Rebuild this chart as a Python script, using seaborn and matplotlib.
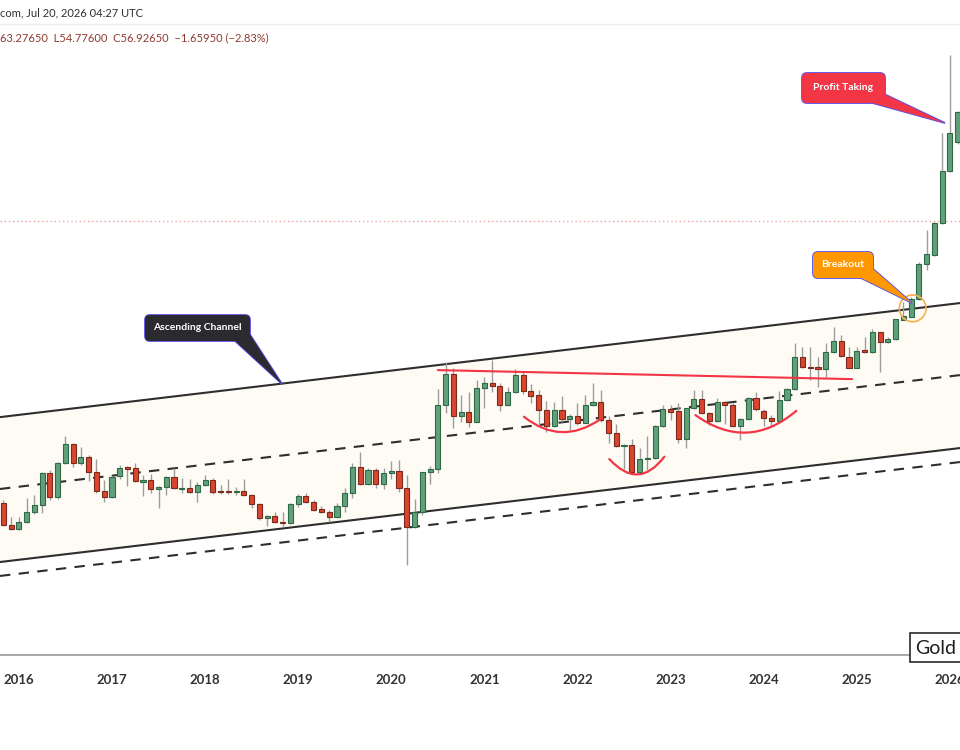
import numpy as np
import pandas as pd
import matplotlib
matplotlib.use("Agg")
import matplotlib.pyplot as plt
import seaborn as sns
from matplotlib.patches import FancyBboxPatch, Polygon, Rectangle
from matplotlib.lines import Line2D
from matplotlib.transforms import Affine2D

# monthly silver candles, Nov 2015 .. Feb 2026 (log price scale)
months = pd.date_range("2015-11-01", "2026-02-01", freq="MS")

open_ = [15.52, 14.02, 13.74, 14.22, 14.88, 15.38, 17.85, 15.96, 18.69, 20.42, 18.69, 19.22,
         17.93, 16.42, 15.96, 17.60, 18.35, 18.27, 17.12, 17.28, 16.57, 16.72, 17.52, 16.57,
         16.65, 16.34, 16.88, 17.28, 16.42, 16.42, 16.34, 16.42, 16.11, 15.45, 14.48, 14.61,
         14.22, 14.15, 15.45, 16.03, 15.60, 15.10, 14.88, 14.55, 15.31, 16.27, 18.35, 16.96,
         18.10, 16.96, 17.85, 18.02, 16.65, 13.88, 14.88, 17.93, 18.18, 24.47, 28.26, 23.25,
         23.69, 22.60, 26.49, 27.10, 26.75, 24.47, 25.99, 28.13, 26.12, 25.64, 23.91, 22.20,
         23.91, 22.93, 23.25, 22.50, 24.47, 24.81, 22.82, 21.49, 20.23, 20.32, 17.93, 19.04,
         19.13, 22.20, 24.03, 23.80, 20.90, 24.14, 25.17, 23.58, 22.71, 24.81, 24.47, 22.20,
         22.93, 25.29, 23.80, 23.03, 22.71, 25.05, 26.37, 30.59, 29.19, 29.19, 28.92, 31.30,
         32.95, 30.59, 29.06, 31.59, 31.30, 34.40, 32.80, 33.26, 36.33, 36.84, 40.06, 47.13,
         49.14, 57.00, 72.61, 83.10]
high = [15.74, 14.55, 14.55, 15.88, 16.11, 17.93, 18.10, 18.75, 21.19, 20.50, 20.13, 19.40,
        19.04, 17.28, 17.60, 18.52, 18.40, 18.69, 17.68, 17.76, 16.80, 17.60, 18.27, 17.44,
        17.36, 17.12, 17.68, 17.44, 16.88, 17.36, 16.72, 17.36, 16.19, 15.52, 14.68, 14.88,
        14.88, 15.52, 16.19, 16.27, 15.74, 15.31, 15.02, 15.52, 16.65, 18.69, 19.68, 18.27,
        18.27, 18.27, 18.85, 18.94, 17.68, 15.81, 17.93, 18.44, 26.37, 29.90, 29.06, 25.64,
        25.99, 27.50, 27.87, 30.16, 27.10, 26.62, 28.92, 28.52, 26.99, 26.24, 24.92, 24.81,
        25.52, 23.47, 24.70, 25.64, 27.10, 26.24, 23.25, 22.40, 20.40, 20.90, 20.03, 21.19,
        22.30, 24.47, 24.47, 24.70, 24.14, 26.24, 26.24, 23.69, 25.29, 24.92, 24.70, 23.03,
        25.41, 25.99, 24.03, 23.36, 26.12, 26.49, 32.64, 32.04, 32.04, 30.59, 32.64, 35.16,
        33.88, 32.04, 32.04, 33.56, 34.90, 34.40, 33.56, 36.50, 39.50, 40.43, 47.60, 55.20,
        57.30, 86.60, 124.50, 96.00]
low = [13.95, 13.68, 13.70, 14.15, 14.75, 14.82, 15.74, 15.80, 18.60, 18.35, 18.52, 17.20,
       16.27, 15.60, 15.90, 17.35, 16.80, 17.12, 16.03, 16.27, 15.17, 16.11, 16.57, 16.27,
       16.30, 15.60, 16.80, 16.20, 16.19, 16.19, 16.11, 16.03, 15.17, 14.34, 13.95, 14.15,
       13.88, 14.08, 15.24, 15.52, 14.95, 14.81, 14.22, 14.50, 14.88, 15.88, 16.90, 16.88,
       16.65, 16.57, 17.36, 16.34, 11.64, 13.82, 14.68, 16.96, 17.85, 23.59, 21.96, 22.60,
       22.10, 22.60, 24.14, 25.99, 23.80, 24.36, 25.87, 25.76, 24.70, 22.30, 21.60, 22.10,
       22.60, 21.76, 22.30, 22.50, 24.36, 22.60, 20.51, 20.13, 18.18, 17.85, 17.85, 18.10,
       19.04, 22.10, 22.82, 20.50, 20.03, 24.03, 23.47, 22.30, 22.60, 22.40, 22.10, 20.80,
       22.82, 23.80, 22.20, 22.20, 22.60, 24.92, 26.24, 29.06, 27.50, 26.62, 27.87, 31.16,
       30.59, 29.06, 29.06, 31.16, 31.16, 28.52, 32.64, 33.10, 36.30, 36.84, 39.87, 45.80,
       48.90, 56.80, 72.30, 82.50]
close = [14.02, 13.74, 14.22, 14.88, 15.38, 17.85, 15.96, 18.69, 20.42, 18.69, 19.22, 17.93,
         16.42, 15.96, 17.52, 18.27, 18.18, 17.20, 17.28, 16.57, 16.72, 17.52, 16.65, 16.65,
         16.34, 16.88, 17.28, 16.34, 16.34, 16.34, 16.42, 16.11, 15.45, 14.48, 14.61, 14.22,
         14.15, 15.45, 16.03, 15.60, 15.02, 14.88, 14.55, 15.31, 16.27, 18.35, 16.96, 18.10,
         16.96, 17.85, 18.02, 16.65, 13.88, 14.88, 17.93, 18.18, 24.47, 28.26, 23.25, 23.69,
         22.60, 26.49, 27.10, 26.75, 24.47, 25.99, 28.13, 26.12, 25.52, 23.91, 22.20, 23.91,
         22.93, 23.25, 22.50, 24.47, 24.81, 22.82, 21.49, 20.23, 20.32, 17.93, 19.04, 19.13,
         22.20, 24.03, 23.69, 20.90, 24.14, 25.17, 23.58, 22.71, 24.81, 24.47, 22.20, 22.93,
         25.29, 24.03, 23.03, 22.71, 25.05, 26.37, 30.59, 29.19, 29.06, 28.92, 31.30, 32.95,
         30.73, 29.06, 31.44, 31.30, 34.40, 32.80, 33.26, 36.50, 37.00, 40.06, 47.13, 49.37,
         57.00, 72.61, 86.65, 95.70]
last_price = 57.6
year_labels = ["2016", "2017", "2018", "2019", "2020", "2021",
               "2022", "2023", "2024", "2025", "2026"]

# drawn trend lines: (month index, price) at both ends of the view
channel_upper = [(-0.43, 23.14), (123.3, 39.32)]
channel_mid = [(-0.43, 16.57), (123.3, 28.13)]
channel_lower = [(-0.43, 11.80), (123.3, 20.04)]
channel_lower2 = [(-0.43, 11.06), (123.3, 18.78)]
resistance = [(56.0, 28.79), (109.4, 27.61)]
cups = [((67.1, 23.18), (76.9, 22.89), 0.37),
        ((78.1, 19.04), (85.2, 19.25), 0.60),
        ((89.2, 23.36), (102.2, 23.83), 0.39)]
breakout_pt = (117.2, 38.36)

GREEN, GREEN_EDGE = "#62a07c", "#2d6a45"
RED, RED_EDGE = "#d9452f", "#7c2a1e"
WICK = "#9d9d9d"
ALERT = "#f23645"

sns.set_theme(style="white")
plt.rcParams["font.family"] = ["Lato", "DejaVu Sans"]

fig = plt.figure(figsize=(9.6, 7.5), dpi=100)
ax = fig.add_axes([0, 0.1267, 1, 0.84])
ax.set_yscale("log")
ax.set_xlim(-0.43, 123.3)
ax.set_ylim(7.66, 143.2)

o = np.array(open_)
h = np.array(high)
lo = np.array(low)
c = np.array(close)
x = np.arange(len(months))
up = c >= o

# channel band
band = Polygon([channel_upper[0], channel_upper[1], channel_lower[1], channel_lower[0]],
               closed=True, fc="#fdfbf4", ec="none", zorder=0)
ax.add_patch(band)
for line, ls in [(channel_upper, "-"), (channel_lower, "-"),
                 (channel_mid, (0, (5, 4))), (channel_lower2, (0, (5, 4)))]:
    xs, ys = zip(*line)
    ax.plot(xs, ys, color="#2e2e2e", lw=1.5, ls=ls, zorder=1)

ax.axhline(last_price, color="#eaa4a4", lw=1, ls=(0, (1, 2)), zorder=1)

# candles
ax.vlines(x, lo, h, color=WICK, lw=1, zorder=2)
ax.bar(x[up], (c - o)[up], bottom=o[up], width=0.66, color=GREEN,
       edgecolor=GREEN_EDGE, lw=0.8, zorder=3)
ax.bar(x[~up], (o - c)[~up], bottom=c[~up], width=0.66, color=RED,
       edgecolor=RED_EDGE, lw=0.8, zorder=3)

# pattern drawings
xs, ys = zip(*resistance)
ax.plot(xs, ys, color=ALERT, lw=1.5, zorder=4)
for start, end, rad in cups:
    ax.annotate("", xy=end, xytext=start,
                arrowprops=dict(arrowstyle="-", color=ALERT, lw=1.6,
                                connectionstyle=f"arc3,rad={rad}",
                                shrinkA=0, shrinkB=0), zorder=4)
ax.scatter([breakout_pt[0]], [breakout_pt[1]], s=370, facecolors="none",
           edgecolors="#f6b04a", linewidths=1.2, zorder=5)

ax.set_xticks(x[months.month == 1], labels=year_labels)
ax.tick_params(axis="x", length=0, pad=14, labelsize=9.5, labelcolor="#1f1f1f")
for lab in ax.get_xticklabels():
    lab.set_fontweight("bold")
    lab.set_color("#333333")
ax.set_yticks([])
ax.yaxis.set_minor_locator(matplotlib.ticker.NullLocator())
sns.despine(ax=ax, left=True, right=True, top=True)
ax.spines["bottom"].set_color("#9a9a9a")
ax.spines["bottom"].set_linewidth(1.2)

# overlay in figure pixels (y down)
pix = Affine2D().scale(1 / 960, -1 / 750).translate(0, 1) + fig.transFigure


def callout(text, box, pointer, color):
    x0, y0, x1, y1 = box
    for z, ec in [(10, "#5a4ee6"), (11, "none")]:
        fig.add_artist(FancyBboxPatch((x0, y0), x1 - x0, y1 - y0,
                                      boxstyle="round,pad=0,rounding_size=5",
                                      transform=pix, fc=color, ec=ec, lw=1.3, zorder=z))
        fig.add_artist(Polygon(pointer, closed=True, transform=pix,
                               fc=color, ec=ec, lw=1.3, zorder=z))
    fig.text((x0 + x1) / 2 / 960, 1 - (y0 + y1) / 2 / 750, text, color="white",
             fontsize=7.5, fontweight="bold", ha="center", va="center", zorder=12)


callout("Ascending Channel", (145, 315, 250, 341), [(234, 340), (249, 333), (282, 384)], "#2b2b2f")
callout("Breakout", (813, 252, 873, 278), [(859, 277), (872, 268), (912, 303)], "#ff9800")
callout("Profit Taking", (802, 73, 885, 103), [(869, 102), (884, 94), (945, 123)], ALERT)

# header
fig.text(0.0, 1 - 13 / 750, "com, Jul 20, 2026 04:27 UTC", fontsize=8,
         color="#2f2f2f", va="center", ha="left")
fig.text(0.0, 1 - 38 / 750, "63.27650  L54.77600  C56.92650  \u22121.65950 (\u22122.83%)",
         fontsize=8, color="#8e3a2f", va="center", ha="left")
fig.add_artist(Line2D([0, 1], [1 - 24 / 750, 1 - 24 / 750], transform=fig.transFigure,
                      color="#ececec", lw=1))

# watermark box
fig.add_artist(Rectangle((910, 633), 60, 29, transform=pix, fc="white",
                         ec="#2a2a2a", lw=1.2, zorder=10))
fig.text(915 / 960, 1 - 648 / 750, "Gold", fontsize=14, color="#1e1e1e",
         va="center", ha="left", zorder=11)

fig.savefig("out.png", dpi=100)
